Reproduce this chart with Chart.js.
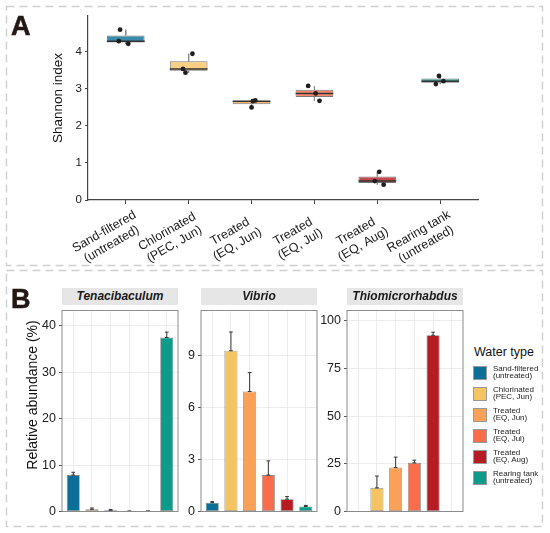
<!DOCTYPE html>
<html lang="en">
<head>
<meta charset="UTF-8">
<title>Shannon index and genus abundance by water type</title>
<script src="https://cdn.jsdelivr.net/npm/chart.js"></script>
<style>
    body {
        margin: 0;
        width: 550px;
        height: 533px;
        position: relative;
        overflow: hidden;
        background: #fff;
        font-family: "Liberation Sans", Arial, Helvetica, sans-serif;
    }
    canvas { position: absolute; }
    svg { position: absolute; left: 0; top: 0; }
    .tag {
        position: absolute;
        font-size: 27px;
        font-weight: bold;
        line-height: 1;
        color: #231815;
        -webkit-text-stroke: 0.6px #231815;
    }
    .ytitle {
        position: absolute;
        white-space: nowrap;
        color: #111;
        transform: translate(-50%, -50%) rotate(-90deg);
    }
    .strip {
        position: absolute;
        top: 288px;
        height: 17px;
        line-height: 17px;
        background: #e6e6e6;
        text-align: center;
        font-size: 12px;
        font-weight: bold;
        font-style: italic;
        color: #1a1a1a;
    }
    .key {
        position: absolute;
        width: 14px;
        height: 14px;
        box-sizing: border-box;
        border: 0.8px solid #9a9a9a;
    }
    .keytext {
        position: absolute;
        font-size: 8px;
        line-height: 7.4px;
        color: #222;
        white-space: nowrap;
    }
</style>
</head>
<body>
    <svg width="550" height="533">
        <rect x="6.5" y="6.5" width="536" height="259" fill="none" stroke="#cfcfcf" stroke-width="1.4" stroke-dasharray="8 5"/>
        <rect x="6.5" y="270.5" width="536" height="256" fill="none" stroke="#cfcfcf" stroke-width="1.4" stroke-dasharray="8 5"/>
    </svg>

    <canvas id="shannonChart" width="550" height="268" style="left:0;top:0;width:550px;height:268px"></canvas>
    <canvas id="tenaChart" width="160" height="222" style="left:20px;top:300px;width:160px;height:222px"></canvas>
    <canvas id="vibrioChart" width="155" height="222" style="left:165px;top:300px;width:155px;height:222px"></canvas>
    <canvas id="thioChart" width="151" height="222" style="left:314px;top:300px;width:151px;height:222px"></canvas>

    <div class="tag" style="left:11px;top:13px">A</div>
    <div class="tag" style="left:11px;top:286px">B</div>
    <div class="ytitle" style="left:57px;top:98px;font-size:13.5px">Shannon index</div>
    <div class="ytitle" style="left:32px;top:395px;font-size:14px">Relative abundance (%)</div>

    <div class="strip" style="left:62px;width:116px">Tenacibaculum</div>
    <div class="strip" style="left:201px;width:116px">Vibrio</div>
    <div class="strip" style="left:347px;width:116px">Thiomicrorhabdus</div>

    <div id="legend"></div>

<script>
    // water types, shared by both panels
    const waterTypes = [
        ['Sand-filtered', '(untreated)'],
        ['Chlorinated', '(PEC, Jun)'],
        ['Treated', '(EQ, Jun)'],
        ['Treated', '(EQ, Jul)'],
        ['Treated', '(EQ, Aug)'],
        ['Rearing tank', '(untreated)']
    ];
    const colors = ['#0b6f97', '#f5c462', '#f9a159', '#fb6c4b', '#b51c23', '#0c9c89'];
    const boxColors = ['#3b8cab', '#f7d081', '#fab47a', '#fc896f', '#c4494f', '#3db0a1'];

    // panel A - Shannon index, three samples per water type
    const shannonSamples = [
        [4.60, 4.29, 4.22],
        [3.95, 3.54, 3.44],
        [2.69, 2.67, 2.50],
        [3.08, 2.88, 2.68],
        [0.76, 0.51, 0.415],
        [3.35, 3.21, 3.13]
    ];
    const sampleJitter = [
        [-0.09, -0.11, 0.04],
        [0.06, -0.09, -0.05],
        [0.06, 0.02, 0.0],
        [-0.1, 0.02, 0.08],
        [0.03, -0.04, 0.1],
        [-0.02, 0.05, -0.07]
    ];
    const shannonQ1 = [4.255, 3.49, 2.585, 2.78, 0.46, 3.17];
    const shannonMedian = [4.29, 3.54, 2.67, 2.88, 0.51, 3.21];
    const shannonQ3 = [4.445, 3.745, 2.68, 2.98, 0.635, 3.28];
    const shannonTicks = [0, 1, 2, 3, 4];

    // panel B - mean relative abundance (%) and standard deviation
    const tenaMean = [7.84, 0.48, 0.27, 0.07, 0.07, 37.48];
    const tenaSd = [0.61, 0.27, 0.14, 0.02, 0.03, 1.16];
    const vibrioMean = [0.51, 9.27, 6.92, 2.10, 0.71, 0.29];
    const vibrioSd = [0.06, 1.08, 1.09, 0.82, 0.15, 0.06];
    const thioMean = [0, 12.4, 23.05, 25.5, 92.4, 0];
    const thioSd = [0, 6.2, 5.45, 1.4, 1.6, 0];
    const tenaTicks = [0, 10, 20, 30, 40];
    const vibrioTicks = [0, 3, 6, 9];
    const thioTicks = [0, 25, 50, 75, 100];

    Chart.defaults.font.family = '"Liberation Sans", Arial, Helvetica, sans-serif';
    Chart.defaults.color = '#222';
    Chart.defaults.plugins.legend.display = false;
    Chart.defaults.plugins.tooltip.enabled = false;

    const catIndex = waterTypes.map((t, i) => i);

    function fixedTicks(values) {
        return scale => { scale.ticks = values.map(v => ({ value: v })); };
    }

    // two-line x labels, rotated 30deg, lines centred on each other (like ggplot)
    const slantedLabels = {
        id: 'slantedLabels',
        afterDraw(chart) {
            const { ctx, scales: { x } } = chart;
            ctx.save();
            ctx.fillStyle = '#1a1a1a';
            ctx.font = '12.5px "Liberation Sans", Arial, sans-serif';
            ctx.textAlign = 'center';
            ctx.textBaseline = 'middle';
            waterTypes.forEach((lines, i) => {
                ctx.save();
                ctx.translate(x.getPixelForValue(i) - 17.8, x.top + 38);
                ctx.rotate(-Math.PI / 6);
                ctx.fillText(lines[0], 0, -7.3);
                ctx.fillText(lines[1], 0, 7.3);
                ctx.restore();
            });
            ctx.restore();
        }
    };

    // ---------- panel A ----------
    const boxData = catIndex.map(i => ({ x: i, y: [shannonQ1[i], shannonQ3[i]] }));
    const medianData = [];
    const whiskerData = [];
    const pointData = [];
    catIndex.forEach(i => {
        medianData.push({ x: i - 0.3, y: shannonMedian[i] }, { x: i + 0.3, y: shannonMedian[i] }, { x: i, y: null });
        const s = shannonSamples[i];
        whiskerData.push(
            { x: i, y: Math.max(...s) }, { x: i, y: shannonQ3[i] }, { x: i, y: null },
            { x: i, y: shannonQ1[i] }, { x: i, y: Math.min(...s) }, { x: i, y: null }
        );
        s.forEach((v, j) => pointData.push({ x: i + sampleJitter[i][j], y: v }));
    });

    new Chart(document.getElementById('shannonChart'), {
        type: 'bar',
        data: {
            datasets: [
                {
                    type: 'scatter',
                    data: pointData,
                    backgroundColor: '#1e1e1e',
                    borderWidth: 0,
                    pointRadius: 2.4,
                    order: 0
                },
                {
                    type: 'line',
                    data: medianData,
                    borderColor: '#333',
                    borderWidth: 1.5,
                    pointRadius: 0,
                    order: 1
                },
                {
                    data: boxData,
                    backgroundColor: boxColors,
                    borderColor: '#7a7a7a',
                    borderWidth: 1,
                    borderSkipped: false,
                    barPercentage: 0.6,
                    categoryPercentage: 1,
                    order: 2
                },
                {
                    type: 'line',
                    data: whiskerData,
                    borderColor: '#8a8a8a',
                    borderWidth: 1,
                    pointRadius: 0,
                    order: 3
                }
            ]
        },
        options: {
            responsive: false,
            animation: false,
            layout: { autoPadding: false, padding: { top: 16, right: 72, left: 0, bottom: 0 } },
            scales: {
                x: {
                    type: 'linear',
                    min: -0.6,
                    max: 5.6,
                    offset: false,
                    afterBuildTicks: fixedTicks(catIndex),
                    afterFit: s => { s.height = 68; },
                    ticks: { display: false },
                    grid: { offset: false, drawOnChartArea: false, tickLength: 4, tickColor: '#444' },
                    border: { display: true, color: '#444', width: 1.2 }
                },
                y: {
                    min: 0,
                    max: 4.97,
                    afterBuildTicks: fixedTicks(shannonTicks),
                    afterFit: s => { s.width = 88; },
                    ticks: { font: { size: 11.5 }, color: '#222', padding: 3 },
                    grid: { drawOnChartArea: false, tickLength: 3, tickColor: '#444' },
                    border: { display: true, color: '#444', width: 1.2 }
                }
            }
        },
        plugins: [slantedLabels]
    });

    // ---------- panel B ----------
    const panelFrame = {
        id: 'panelFrame',
        afterDraw(chart) {
            const { ctx, chartArea: a } = chart;
            ctx.save();
            ctx.strokeStyle = '#8c8c8c';
            ctx.lineWidth = 1;
            ctx.strokeRect(a.left, a.top, a.right - a.left, a.bottom - a.top);
            ctx.restore();
        }
    };

    function errorBars(means, sds) {
        return {
            id: 'errorBars',
            afterDatasetsDraw(chart) {
                const { ctx, scales: { x, y } } = chart;
                ctx.save();
                ctx.strokeStyle = '#333';
                ctx.lineWidth = 1;
                sds.forEach((sd, i) => {
                    if (!sd) return;
                    const top = y.getPixelForValue(means[i] + sd);
                    const base = y.getPixelForValue(means[i]);
                    const cx = x.getPixelForValue(i);
                    const l = x.getPixelForValue(i - 0.1);
                    const r = x.getPixelForValue(i + 0.1);
                    ctx.beginPath();
                    ctx.moveTo(cx, base); ctx.lineTo(cx, top);
                    ctx.moveTo(l, top); ctx.lineTo(r, top);
                    ctx.moveTo(l, base); ctx.lineTo(r, base);
                    ctx.stroke();
                });
                ctx.restore();
            }
        };
    }

    function facetChart(id, means, sds, maxY, ticks, yWidth, padRight) {
        return new Chart(document.getElementById(id), {
            type: 'bar',
            data: {
                datasets: [{
                    data: catIndex.map(i => ({ x: i, y: means[i] })),
                    backgroundColor: colors,
                    borderColor: 'rgba(60,60,60,0.6)',
                    borderWidth: 0.8,
                    borderSkipped: false,
                    barPercentage: 0.7,
                    categoryPercentage: 1
                }]
            },
            options: {
                responsive: false,
                animation: false,
                layout: { autoPadding: false, padding: { top: 5, right: padRight, left: 0, bottom: 0 } },
                scales: {
                    x: {
                        type: 'linear',
                        min: -0.6,
                        max: 5.6,
                        offset: false,
                        afterBuildTicks: fixedTicks(catIndex),
                        afterFit: s => { s.height = 5.3; },
                        ticks: { display: false },
                        grid: { offset: false, color: '#ebebeb', lineWidth: 0.9, drawTicks: false },
                        border: { display: false }
                    },
                    y: {
                        min: 0,
                        max: maxY,
                        afterBuildTicks: fixedTicks(ticks),
                        afterFit: s => { s.width = yWidth; },
                        ticks: { font: { size: 12.5 }, color: '#222', padding: 3 },
                        grid: { color: '#ebebeb', lineWidth: 0.9, tickLength: 3, tickColor: '#444' },
                        border: { display: false }
                    }
                }
            },
            plugins: [errorBars(means, sds), panelFrame]
        });
    }

    facetChart('tenaChart', tenaMean, tenaSd, 43.3, tenaTicks, 42, 2);
    facetChart('vibrioChart', vibrioMean, vibrioSd, 11.59, vibrioTicks, 36, 3);
    facetChart('thioChart', thioMean, thioSd, 105.4, thioTicks, 33, 2);

    // legend
    const legend = document.getElementById('legend');
    let html = '<div style="position:absolute;left:474px;top:345px;font-size:12.5px;line-height:15px;color:#111;white-space:nowrap">Water type</div>';
    waterTypes.forEach((t, i) => {
        const cy = 372.5 + i * 21;
        html += '<div class="key" style="left:473px;top:' + (cy - 7) + 'px;background:' + colors[i] + '"></div>';
        html += '<div class="keytext" style="left:493px;top:' + (cy - 7.6) + 'px">' + t[0] + '<br>' + t[1] + '</div>';
    });
    legend.innerHTML = html;
</script>
</body>
</html>
